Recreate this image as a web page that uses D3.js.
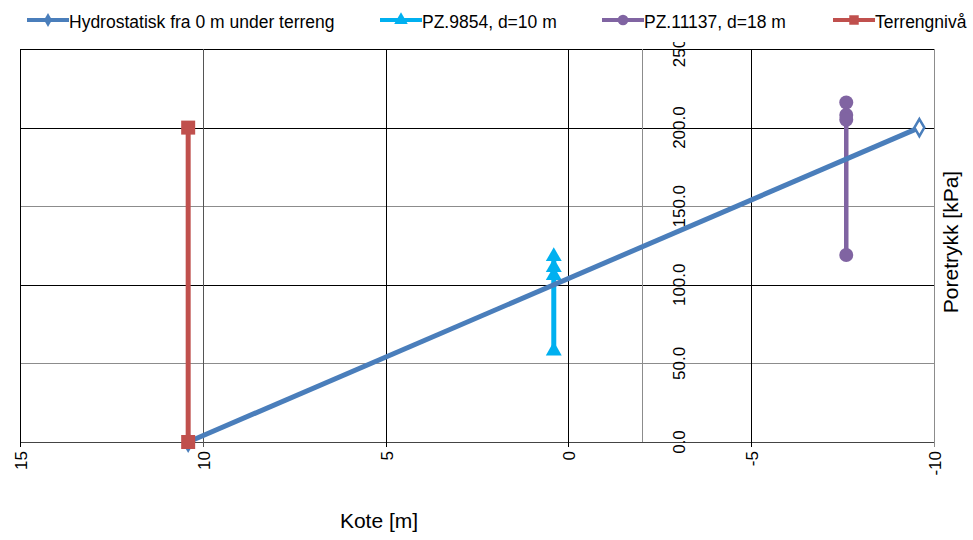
<!DOCTYPE html>
<html>
<head>
<meta charset="utf-8">
<script src="https://cdn.jsdelivr.net/npm/d3@7"></script>
<style>
  body { margin: 0; background: #fff; }
  text { font-family: "Liberation Sans", Arial, sans-serif; fill: #000; }
</style>
</head>
<body>
<script>
// series data (kote [m], poretrykk [kPa])
const hydroKote = [10.4, -9.6];
const hydroP = [0, 200];
const pz9854Kote = [0.4, 0.4, 0.4, 0.4];
const pz9854P = [118, 111, 106, 58];
const pz11137Kote = [-7.6, -7.6, -7.6, -7.6];
const pz11137P = [216, 208, 205, 119];
const terrKote = [10.4, 10.4];
const terrP = [0, 200];

const xTicks = [15, 10, 5, 0, -5, -10];
const yTicks = [0, 50, 100, 150, 200, 250];
const legendNames = ["Hydrostatisk fra 0 m under terreng", "PZ.9854, d=10 m", "PZ.11137, d=18 m", "Terrengnivå"];

const width = 973, height = 540;
const svg = d3.select("body").append("svg")
    .attr("width", width)
    .attr("height", height);

const x = d3.scaleLinear().domain([15, -10]).range([20, 934]);
const y = d3.scaleLinear().domain([0, 250]).range([442, 49]);

// gridlines
const hGridColor = {0: "#444", 50: "#8c8c8c", 100: "#000", 150: "#8c8c8c", 200: "#000", 250: "#000"};
const vGridColor = {15: "#000", 10: "#555", 5: "#000", 0: "#000", "-5": "#000", "-10": "#8c8c8c"};

svg.append("g").selectAll("line")
    .data(yTicks)
    .enter().append("line")
    .attr("x1", x(15)).attr("x2", x(-10))
    .attr("y1", d => Math.round(y(d)) + 0.5)
    .attr("y2", d => Math.round(y(d)) + 0.5)
    .attr("stroke", d => hGridColor[d])
    .attr("stroke-width", 1);

svg.append("g").selectAll("line")
    .data(xTicks)
    .enter().append("line")
    .attr("x1", d => Math.round(x(d)) + 0.5)
    .attr("x2", d => Math.round(x(d)) + 0.5)
    .attr("y1", y(250)).attr("y2", y(0) + 5)
    .attr("stroke", d => vGridColor[d])
    .attr("stroke-width", 1);

// y axis crossing at kote -2
svg.append("line")
    .attr("x1", Math.round(x(-2)) + 0.5).attr("x2", Math.round(x(-2)) + 0.5)
    .attr("y1", y(250)).attr("y2", y(0))
    .attr("stroke", "#8c8c8c");

// x tick labels
svg.append("g").selectAll("text")
    .data(xTicks)
    .enter().append("text")
    .attr("transform", d => `translate(${x(d) + 1}, 451) rotate(-90)`)
    .attr("text-anchor", "end")
    .attr("dy", "0.35em")
    .style("font-size", "17px")
    .text(d => d);

// y tick labels next to the axis (top one is pushed down a bit and clipped by the legend band)
svg.append("g").selectAll("text")
    .data(yTicks)
    .enter().append("text")
    .attr("transform", d => `translate(679, ${d === 250 ? y(d) - 3 : y(d)}) rotate(-90)`)
    .attr("text-anchor", "middle")
    .attr("dy", "0.35em")
    .style("font-size", "17px")
    .text(d => d3.format(".1f")(d));

// axis titles
svg.append("text")
    .attr("x", 379).attr("y", 528)
    .attr("text-anchor", "middle")
    .style("font-size", "21px")
    .text("Kote [m]");

svg.append("text")
    .attr("transform", "translate(958, 242) rotate(-90)")
    .attr("text-anchor", "middle")
    .style("font-size", "21px")
    .text("Poretrykk [kPa]");

const line = d3.line().x(d => x(d[0])).y(d => y(d[1]));
const zip = (a, b) => a.map((v, i) => [v, b[i]]);

const colors = ["#4a7ebb", "#00b0f0", "#8064a2", "#c0504d"];

// PZ.9854
const pz1 = zip(pz9854Kote, pz9854P);
svg.append("path").datum(pz1)
    .attr("d", line).attr("fill", "none")
    .attr("stroke", colors[1]).attr("stroke-width", 5);
svg.append("g").selectAll("path")
    .data(pz1)
    .enter().append("path")
    .attr("d", d3.symbol().type(d3.symbolTriangle).size(110))
    .attr("transform", d => `translate(${x(d[0])}, ${y(d[1])})`)
    .attr("fill", colors[1]);

// PZ.11137
const pz2 = zip(pz11137Kote, pz11137P);
svg.append("path").datum(pz2)
    .attr("d", line).attr("fill", "none")
    .attr("stroke", colors[2]).attr("stroke-width", 4.5);
svg.append("g").selectAll("circle")
    .data(pz2)
    .enter().append("circle")
    .attr("cx", d => x(d[0])).attr("cy", d => y(d[1]))
    .attr("r", 7)
    .attr("fill", colors[2]);

// hydrostatic line
const hydro = zip(hydroKote, hydroP);
svg.append("path").datum(hydro)
    .attr("d", line).attr("fill", "none")
    .attr("stroke", colors[0]).attr("stroke-width", 5);
svg.append("g").selectAll("path")
    .data(hydro)
    .enter().append("path")
    .attr("d", d3.symbol().type(d3.symbolDiamond).size(85))
    .attr("transform", d => `translate(${x(d[0])}, ${y(d[1])})`)
    .attr("fill", "#fff")
    .attr("stroke", colors[0]).attr("stroke-width", 2.5);

// terrain
const terr = zip(terrKote, terrP);
svg.append("path").datum(terr)
    .attr("d", line).attr("fill", "none")
    .attr("stroke", colors[3]).attr("stroke-width", 5);
svg.append("g").selectAll("rect")
    .data(terr)
    .enter().append("rect")
    .attr("x", d => x(d[0]) - 7).attr("y", d => y(d[1]) - 7)
    .attr("width", 14).attr("height", 14)
    .attr("fill", colors[3]);

// legend (white band covers the top of the clipped 250.0 label)
svg.append("rect")
    .attr("x", 0).attr("y", 0)
    .attr("width", width).attr("height", 42)
    .attr("fill", "#fff");

const legendX = [27, 380, 602, 833];
const legend = svg.append("g").selectAll("g")
    .data(legendNames)
    .enter().append("g")
    .attr("transform", (d, i) => `translate(${legendX[i]}, 20)`);

legend.append("line")
    .attr("x1", 0).attr("x2", 42)
    .attr("stroke", (d, i) => colors[i])
    .attr("stroke-width", 4);

const legendSymbols = [d3.symbolDiamond, d3.symbolTriangle, d3.symbolCircle, d3.symbolSquare];
const legendSizes = [55, 80, 90, 90];
legend.append("path")
    .attr("transform", "translate(21, 0)")
    .attr("d", (d, i) => d3.symbol().type(legendSymbols[i]).size(legendSizes[i])())
    .attr("fill", (d, i) => colors[i]);

legend.append("text")
    .attr("x", 42).attr("y", 8)
    .style("font-size", "17.5px")
    .text(d => d);
</script>
</body>
</html>
